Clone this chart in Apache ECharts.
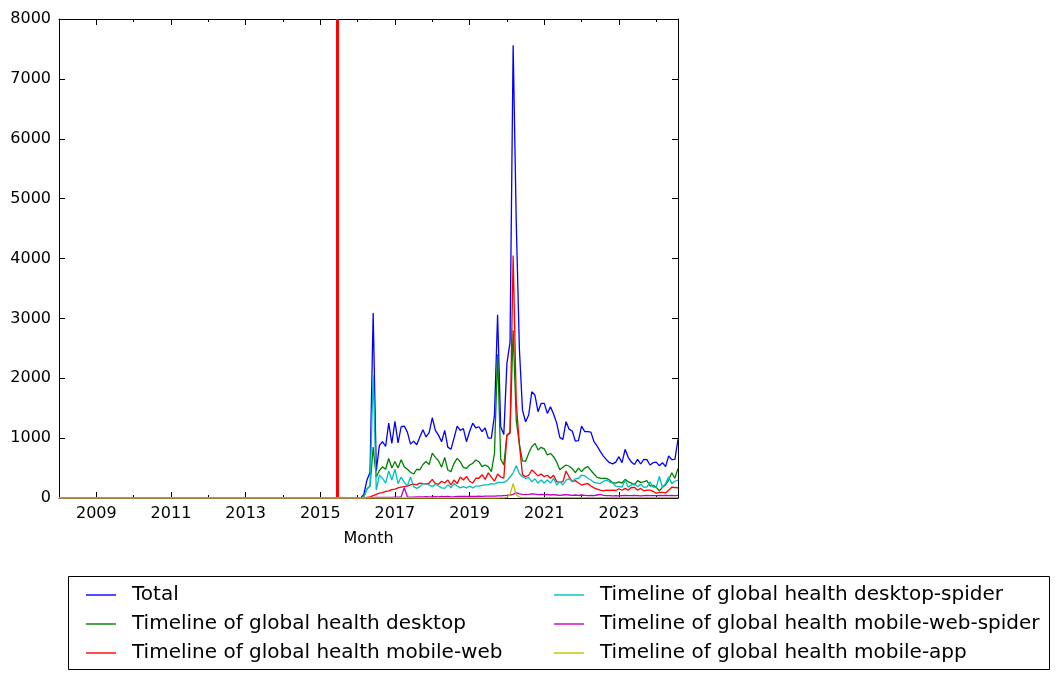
<!DOCTYPE html>
<html>
<head>
<meta charset="utf-8">
<script src="https://cdn.jsdelivr.net/npm/echarts@6/dist/echarts.min.js"></script>
<style>
html,body{margin:0;padding:0;background:#fff;}
#chart{width:1059px;height:679px;}
</style>
</head>
<body>
<div id="chart"></div>
<script>
// Month range of the x axis
const firstMonth = '2008-01';
const lastMonth = '2024-08';
// Red reference line: mid-June 2015
const referenceMonth = '2015-06';
const referenceMonthFraction = 0.5;

// Monthly pageviews 2008-01 .. 2016-02 (all zero)
const zeroMonths = [
0,0,0,0,0,0,0,0,0,0,0,0,
0,0,0,0,0,0,0,0,0,0,0,0,
0,0,0,0,0,0,0,0,0,0,0,0,
0,0,0,0,0,0,0,0,0,0,0,0,
0,0,0,0,0,0,0,0,0,0,0,0,
0,0,0,0,0,0,0,0,0,0,0,0,
0,0,0,0,0,0,0,0,0,0,0,0,
0,0,0,0,0,0,0,0,0,0,0,0,
0,0];

// 2016-03 .. 2024-08
const totalViews = [
60,300,430,3090,450,880,940,860,1250,910,
1280,920,1190,1200,1100,900,950,890,1020,1140,1020,1090,
1340,1130,1050,940,1130,850,813,1000,1200,1130,1160,940,
1110,1250,1170,1190,1110,1170,1000,1000,1380,3060,1190,1060,
2250,2600,7560,4600,2500,1469,1274,1386,1775,1720,1441,1580,
1580,1413,1525,1402,1250,1013,979,1274,1150,1120,950,960,
1200,1110,1107,1100,940,868,780,700,640,590,570,600,
690,590,813,680,600,560,646,568,646,640,551,590,
600,540,590,523,701,640,646,979];

const desktopViews = [
30,150,200,850,350,460,520,480,660,500,
610,500,640,520,480,430,400,480,470,560,610,560,
750,679,623,512,679,467,440,579,662,606,512,495,
551,579,634,606,523,551,523,440,746,2400,650,550,
1050,1100,2800,1300,900,620,610,746,857,913,801,846,
820,718,746,690,600,470,512,551,530,490,423,500,
440,500,523,460,400,345,330,328,328,300,256,250,
270,250,312,270,250,217,290,260,270,290,200,210,
178,122,178,217,300,420,330,495];

const mobileWebViews = [
0,10,20,40,60,80,90,110,120,140,
150,170,180,190,200,220,230,220,250,240,230,250,
310,240,230,280,250,300,220,300,240,350,300,360,
280,250,330,330,390,310,420,350,280,400,350,330,
1050,1080,4050,1600,900,390,356,380,467,420,370,400,
356,380,330,380,273,260,273,451,350,273,290,250,
217,230,240,200,170,150,130,120,130,125,130,125,
155,130,160,130,175,178,130,160,120,130,130,110,
80,95,95,85,130,180,175,170];

const desktopSpiderViews = [
20,150,200,2050,130,380,330,250,450,300,
480,240,350,260,200,350,190,160,190,240,240,220,
190,230,200,170,160,220,170,240,200,170,190,170,
200,170,200,200,210,220,220,240,230,260,260,260,
290,350,420,540,410,356,328,340,273,320,250,300,
250,300,250,330,217,273,217,300,320,273,320,330,
384,370,330,300,260,250,240,280,300,270,250,200,
190,180,300,180,220,240,190,230,180,180,270,180,
180,360,180,240,356,240,280,300];

const mobileWebSpiderViews = [
0,2,5,5,8,10,10,10,12,12,
15,15,20,170,20,15,15,18,20,20,22,20,
20,22,20,25,22,25,20,22,25,28,25,25,
25,28,25,30,28,30,30,32,30,35,35,40,
45,50,60,90,70,60,55,60,70,65,55,60,
55,60,50,55,50,45,50,55,50,45,50,45,
50,45,40,45,40,50,60,45,40,40,35,40,
35,40,45,40,40,45,40,35,40,45,40,40,
40,45,40,45,40,45,40,45];

const mobileAppViews = [
0,0,0,0,0,0,0,0,0,0,
0,0,0,0,0,0,0,0,0,0,0,0,
0,0,0,0,0,0,0,0,0,0,0,0,
0,0,0,0,0,0,0,0,0,0,2,3,
10,60,240,50,15,5,5,5,5,5,5,5,
5,5,5,5,5,5,5,5,5,5,5,5,
5,5,5,5,5,5,5,5,5,5,5,5,
5,5,5,5,5,5,5,5,5,5,5,5,
5,5,5,5,5,5,5,5];

const seriesNames = [
  'Total',
  'Timeline of global health desktop',
  'Timeline of global health mobile-web',
  'Timeline of global health desktop-spider',
  'Timeline of global health mobile-web-spider',
  'Timeline of global health mobile-app'
];
const seriesValues = [totalViews, desktopViews, mobileWebViews, desktopSpiderViews, mobileWebSpiderViews, mobileAppViews];
const seriesColors = ['#0000ff', '#008000', '#ff0000', '#00bfbf', '#bf00bf', '#bfbf00'];

const yTicks = [0, 8000, 1000]; // min, max, step

// build month categories
const months = [];
{
  let [y, m] = firstMonth.split('-').map(Number);
  const [ey, em] = lastMonth.split('-').map(Number);
  while (y < ey || (y === ey && m <= em)) {
    months.push(y + '-' + String(m).padStart(2, '0'));
    m++; if (m > 12) { m = 1; y++; }
  }
}

const FONT = 'DejaVu Sans';
const isJan = v => v.endsWith('-01');
const yearOf = v => parseInt(v.slice(0, 4), 10);
const oddJan = (i, v) => isJan(v) && yearOf(v) % 2 === 1;
const evenJan = (i, v) => isJan(v) && yearOf(v) % 2 === 0;

function xAxisDef(position, major, showLabels, showLine) {
  return {
    type: 'category', data: months, boundaryGap: false, position: position,
    axisLine: {show: showLine, onZero: false, lineStyle: {color: '#000', width: 1}},
    axisTick: {show: true, inside: true, length: major ? 6 : 3, interval: major ? oddJan : evenJan,
               lineStyle: {color: '#000', width: 1}},
    axisLabel: {show: showLabels, interval: oddJan, formatter: v => v.slice(0, 4),
                color: '#000', fontFamily: FONT, fontSize: 16, margin: 8},
    splitLine: {show: false}
  };
}

const xAxes = [
  Object.assign(xAxisDef('bottom', true, true, true), {
    name: 'Month', nameLocation: 'middle', nameGap: 33,
    nameTextStyle: {color: '#000', fontFamily: FONT, fontSize: 16}
  }),
  xAxisDef('bottom', false, false, false),
  xAxisDef('top', true, false, true),
  xAxisDef('top', false, false, false),
  // hidden month-index axis used only to place the reference line between months
  {type: 'value', min: 0, max: months.length - 1, show: false, position: 'bottom'}
];

function yAxisDef(position, showLabels) {
  return {
    type: 'value', min: yTicks[0], max: yTicks[1], interval: yTicks[2], position: position,
    axisLine: {show: true, onZero: false, lineStyle: {color: '#000', width: 1}},
    axisTick: {show: true, inside: true, length: 6, lineStyle: {color: '#000', width: 1}},
    axisLabel: {show: showLabels, color: '#000', fontFamily: FONT, fontSize: 16, margin: 8,
                formatter: v => String(v)},
    splitLine: {show: false}
  };
}

const series = seriesNames.map((name, k) => ({
  name: name,
  type: 'line',
  xAxisIndex: 0,
  yAxisIndex: 0,
  data: zeroMonths.concat(seriesValues[k]),
  symbol: 'none',
  showSymbol: false,
  lineStyle: {color: seriesColors[k], width: 1.3},
  itemStyle: {color: seriesColors[k]},
  z: 2 + k,
  animation: false
}));

series.push({
  name: 'reference',
  type: 'line',
  xAxisIndex: 4,
  yAxisIndex: 0,
  data: [],
  symbol: 'none',
  z: 1,
  animation: false,
  markLine: {
    silent: true, symbol: ['none', 'none'], animation: false,
    label: {show: false},
    lineStyle: {color: '#ff0000', width: 3, type: 'solid'},
    data: [{xAxis: months.indexOf(referenceMonth) + referenceMonthFraction}]
  }
});

const legendText = {color: '#000', fontFamily: FONT, fontSize: 20, lineHeight: 20, padding: [0, 0, 0, 11]};

function legendDef(names, left) {
  return {
    data: names.map(n => ({name: n, icon: 'rect'})),
    orient: 'vertical', left: left, top: 580,
    itemWidth: 30, itemHeight: 1.4, itemGap: 9, textStyle: legendText,
    selectedMode: false
  };
}

const option = {
  animation: false,
  backgroundColor: '#fff',
  grid: {left: 59, top: 19, width: 619, height: 479, containLabel: false},
  xAxis: xAxes,
  yAxis: [yAxisDef('left', true), yAxisDef('right', false)],
  legend: [legendDef(seriesNames.slice(0, 3), 81), legendDef(seriesNames.slice(3, 6), 549)],
  graphic: [{
    type: 'rect', z: -1, left: 68, top: 576,
    shape: {width: 981, height: 93},
    style: {fill: '#fff', stroke: '#000', lineWidth: 1}
  }],
  series: series
};

const chart = echarts.init(document.getElementById('chart'), null, {renderer: 'canvas'});
chart.setOption(option);
</script>
</body>
</html>
